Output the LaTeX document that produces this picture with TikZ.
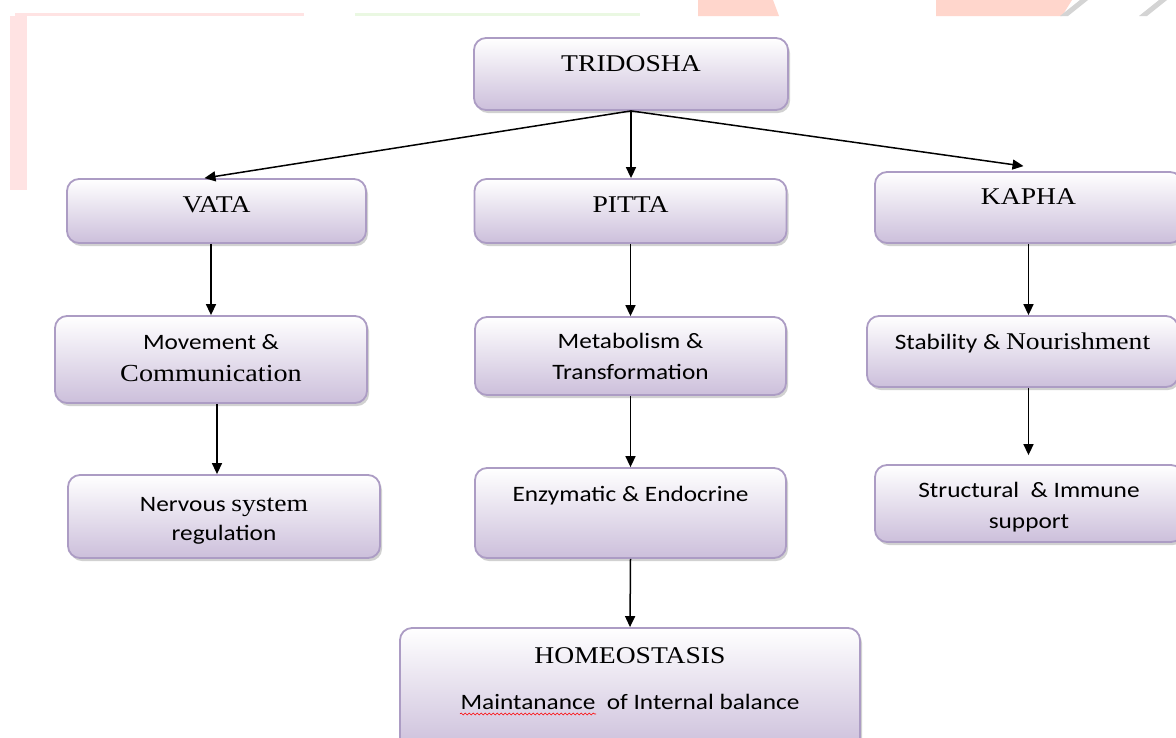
\documentclass[tikz,border=0pt]{standalone}
\usepackage{fontspec}
\setmainfont{Liberation Serif}[FakeStretch=1.15]
\newfontfamily\calibri{Carlito}[FakeStretch=1.15]
\usetikzlibrary{arrows.meta,shadows,decorations.pathmorphing}

\definecolor{boxline}{RGB}{172,156,196}
\definecolor{boxfill}{RGB}{204,191,219}
\definecolor{wmpink}{RGB}{255,227,227}
\definecolor{wmgreen}{RGB}{234,248,226}
\definecolor{wmred}{RGB}{255,214,204}
\definecolor{wmgrey}{RGB}{212,212,212}

\newcommand{\serifword}[1]{{\rmfamily\fontsize{24}{28}\selectfont #1}}

\tikzset{
  dosha/.style={draw=boxline, line width=1.8pt, rounded corners=12pt, inner sep=0pt,
    top color=white, bottom color=boxfill,
    drop shadow={shadow xshift=2pt, shadow yshift=-3pt, fill=black!45, opacity=0.4}},
  big/.style={font=\rmfamily\fontsize{24}{28}\selectfont, anchor=base, inner sep=0pt},
  small/.style={font=\calibri\fontsize{22}{26}\selectfont, anchor=base, inner sep=0pt},
  arr/.style={-{Triangle[length=11pt,width=10pt]}, line width=1.5pt}
}

\begin{document}
\begin{tikzpicture}[x=1pt,y=-1pt]
        \useasboundingbox (0,0) rectangle (1176,737);
        \clip (0,0) rectangle (1176,737);
        \fill[white] (0,0) rectangle (1176,737);

        % Faint marks along the top
        \fill[wmpink] (15,13) rectangle (304,16);
        \fill[wmpink] (10,16) rectangle (27,190);
        \fill[wmgreen] (355,13) rectangle (640,16);
        \fill[wmred] (698,0) -- (773,0) -- (779,16) -- (698,16) -- cycle;
        \fill[wmred] (936,0) -- (1072,0) -- (1062,16) -- (936,16) -- cycle;
        \fill[wmgrey] (1080,0) -- (1088,0) -- (1068,16) -- (1060,16) -- cycle;
        \fill[wmgrey] (1159,0) -- (1167,0) -- (1147,16) -- (1139,16) -- cycle;

        % Define nodes
        \node[dosha, minimum width=314pt, minimum height=72pt] (tri) at (631,74) {};
        \node[big] (tri-t) at (631,71) {TRIDOSHA};

        \node[dosha, minimum width=299pt, minimum height=64pt] (vata) at (216.5,211) {};
        \node[big] (vata-t) at (216.5,212) {VATA};

        \node[dosha, minimum width=312pt, minimum height=64pt] (pitta) at (630.5,211) {};
        \node[big] (pitta-t) at (630.5,212) {PITTA};

        \node[dosha, minimum width=307pt, minimum height=71pt] (kapha) at (1028.5,207.5) {};
        \node[big] (kapha-t) at (1028.5,204) {KAPHA};

        \node[dosha, minimum width=312pt, minimum height=87pt] (mov) at (211,359.5) {};
        \node[small] (mov-1) at (211,349) {Movement \&};
        \node[big] (mov-2) at (211,381) {\fontsize{24.5}{28}\selectfont Communication};

        \node[dosha, minimum width=312pt, minimum height=83pt] (nerv) at (224,516.5) {};
        \node[small] (nerv-1) at (224,511) {Nervous \serifword{system}};
        \node[small] (nerv-2) at (224,540) {regulation};

        \node[dosha, minimum width=311pt, minimum height=78pt] (meta) at (630.5,356) {};
        \node[small] (meta-1) at (630.5,348) {Metabolism \&};
        \node[small] (meta-2) at (630.5,379) {Transformation};

        \node[dosha, minimum width=311pt, minimum height=90pt] (enzy) at (630.5,513) {};
        \node[small] (enzy-t) at (630.5,501) {Enzymatic \& Endocrine};

        \node[dosha, minimum width=311pt, minimum height=71pt] (stab) at (1022.5,351.5) {};
        \node[small] (stab-t) at (1022.5,349) {Stability \& \serifword{Nourishment}};

        \node[dosha, minimum width=308pt, minimum height=77pt] (stru) at (1029,503.5) {};
        \node[small] (stru-1) at (1029,497) {Structural\ \ \& Immune};
        \node[small] (stru-2) at (1029,528) {support};

        \node[dosha, minimum width=460pt, minimum height=122pt] (home) at (630,689) {};
        \node[big] (home-1) at (630,663) {HOMEOSTASIS};
        \node[small] (home-2) at (630,709) {Maintanance\ \ of Internal balance};
        \draw[red, line width=0.6pt, decorate, decoration={snake, amplitude=1pt, segment length=4pt}]
            (460,714) -- (596,714);

        % Draw edges
        \draw[arr] (tri.south) -- ([xshift=-12pt]vata.north);
        \draw[arr] (tri.south) -- (tri.south |- pitta.north);
        \draw[arr] (tri.south) -- ([xshift=-5pt,yshift=5pt]kapha.north);

        \draw[arr] (mov.north |- vata.south) -- (mov.north);
        \draw[arr] ([xshift=6pt]mov.south) -- ([xshift=-7pt]nerv.north);

        \draw[arr] (pitta.south) -- (meta.north);
        \draw[arr] (meta.south) -- (enzy.north);
        \draw[arr] (enzy.south) -- (home.north);

        \draw[arr] (kapha.south) -- (kapha.south |- stab.north);
        \draw[arr, shorten >=9pt] (kapha.south |- stab.south) -- (kapha.south |- stru.north);
\end{tikzpicture}
\end{document}
